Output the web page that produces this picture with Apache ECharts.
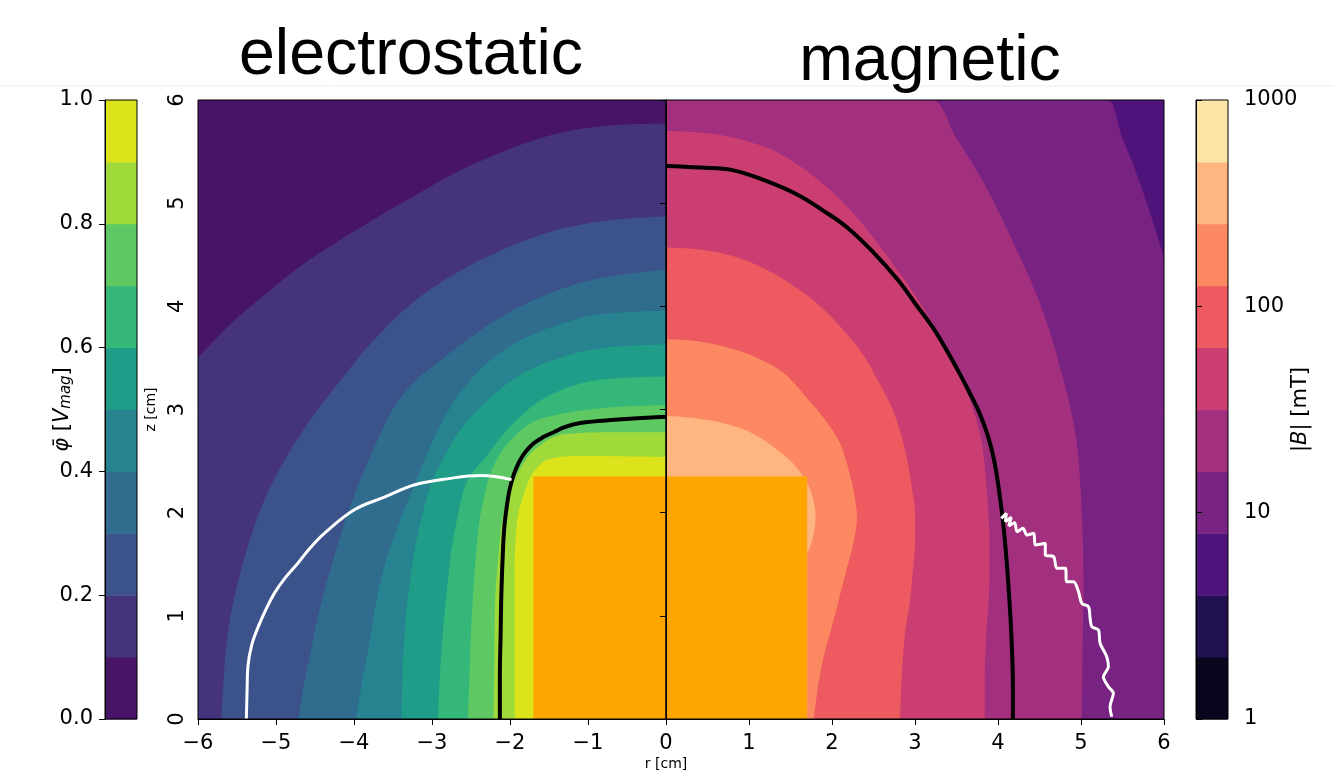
<!DOCTYPE html>
<html>
<head>
<meta charset="utf-8">
<script src="https://cdn.jsdelivr.net/npm/echarts@6/dist/echarts.min.js"></script>
<style>
  html, body { margin: 0; padding: 0; background: #fff; }
  #chart { width: 1334px; height: 770px; }
</style>
</head>
<body>
<div id="chart"></div>
<script>
// colour levels
var phiLevels = [0, 0.1, 0.2, 0.3, 0.4, 0.5, 0.6, 0.7, 0.8, 0.9, 1.0];
var phiColors = ['#481467', '#46337E', '#3B528B', '#2F6C8E', '#26838F', '#1F9D89', '#35B779', '#5EC962', '#9FDA3A', '#DDE31A'];
var bLevels = [1, 1.995, 3.981, 7.943, 15.85, 31.62, 63.10, 125.9, 251.2, 501.2, 1000];
var bColors = ['#07061C', '#221150', '#50127B', '#782281', '#A3307E', '#CB3E71', '#ED5A5F', '#FC8961', '#FEB57F', '#FCE5A6'];

// magnet (radius, height) in cm
var magnetR = 1.7;
var magnetH = 2.35;

// electrostatic contour boundaries [r, z] (cm); the side toward the magnet gets the next level
var phi01 = [[0,5.77],[-0.45,5.765],[-0.87,5.74],[-1.30,5.69],[-1.73,5.60],[-2.15,5.48],[-2.58,5.34],[-3.0,5.17],[-3.44,4.98],[-3.86,4.79],[-4.29,4.59],[-4.72,4.37],[-5.15,4.11],[-5.58,3.83],[-6,3.50]];
var phi02 = [[0,4.87],[-0.65,4.84],[-1.30,4.76],[-1.73,4.66],[-2.15,4.53],[-2.58,4.37],[-3.01,4.17],[-3.35,3.97],[-3.65,3.75],[-3.88,3.56],[-4.08,3.37],[-4.33,3.13],[-4.56,2.90],[-4.88,2.52],[-5.15,2.12],[-5.34,1.72],[-5.49,1.32],[-5.60,0.92],[-5.66,0.51],[-5.70,0]];
var phi03 = [[0,4.36],[-0.87,4.27],[-1.30,4.18],[-1.73,4.05],[-2.15,3.88],[-2.58,3.66],[-2.92,3.46],[-3.22,3.27],[-3.47,3.04],[-3.70,2.70],[-3.94,2.28],[-4.13,1.88],[-4.29,1.48],[-4.44,1.07],[-4.55,0.67],[-4.65,0.30],[-4.71,0]];
var phi04 = [[0,3.96],[-0.87,3.92],[-1.30,3.84],[-1.73,3.72],[-2.07,3.58],[-2.37,3.40],[-2.58,3.22],[-2.75,3.04],[-3.00,2.68],[-3.22,2.28],[-3.43,1.88],[-3.61,1.48],[-3.73,1.07],[-3.82,0.67],[-3.91,0.30],[-3.97,0]];
var phi05 = [[0,3.63],[-0.87,3.59],[-1.51,3.46],[-1.94,3.30],[-2.30,3.08],[-2.50,2.93],[-2.67,2.77],[-2.85,2.53],[-3.01,2.28],[-3.13,1.96],[-3.22,1.64],[-3.30,1.23],[-3.35,0.83],[-3.38,0.40],[-3.39,0]];
var phi06 = [[0,3.32],[-0.68,3.30],[-1.10,3.25],[-1.53,3.12],[-1.87,2.93],[-2.13,2.72],[-2.33,2.52],[-2.47,2.40],[-2.58,2.25],[-2.68,1.93],[-2.75,1.64],[-2.81,1.23],[-2.86,0.83],[-2.90,0.40],[-2.92,0]];
var phi07 = [[0,3.04],[-0.87,3.01],[-1.51,2.93],[-1.75,2.86],[-1.90,2.77],[-2.04,2.66],[-2.15,2.54],[-2.25,2.38],[-2.32,2.19],[-2.39,1.92],[-2.43,1.64],[-2.47,1.23],[-2.50,0.83],[-2.52,0.40],[-2.54,0]];
var phi08 = [[0,2.78],[-0.68,2.78],[-1.30,2.76],[-1.48,2.72],[-1.60,2.66],[-1.74,2.57],[-1.85,2.45],[-1.95,2.31],[-2.02,2.19],[-2.08,2.00],[-2.12,1.80],[-2.16,1.47],[-2.19,1.15],[-2.20,0.58],[-2.21,0]];
var phi09 = [[0,2.54],[-1.10,2.55],[-1.35,2.54],[-1.53,2.51],[-1.62,2.46],[-1.68,2.41],[-1.74,2.34],[-1.79,2.25],[-1.85,2.11],[-1.90,1.96],[-1.93,1.72],[-1.94,1.48],[-1.94,0.74],[-1.94,0]];
var phiLine = [[0,2.93],[-0.66,2.90],[-1.10,2.87],[-1.30,2.83],[-1.44,2.78],[-1.58,2.73],[-1.70,2.67],[-1.80,2.59],[-1.87,2.51],[-1.92,2.43],[-1.96,2.35],[-2.00,2.24],[-2.03,2.12],[-2.07,1.88],[-2.09,1.64],[-2.11,1.23],[-2.12,0.83],[-2.13,0.40],[-2.13,0]];
var phiPath = [[-5.38,0],[-5.37,0.30],[-5.36,0.51],[-5.31,0.72],[-5.23,0.89],[-5.13,1.06],[-5.02,1.22],[-4.88,1.37],[-4.72,1.51],[-4.56,1.66],[-4.38,1.80],[-3.99,2.03],[-3.61,2.15],[-3.22,2.27],[-2.79,2.33],[-2.37,2.36],[-1.98,2.32]];

// magnetic contour boundaries [r, z] (cm)
var bMa = [[0,6],[5.10,6],[5.31,6],[5.50,5.63],[5.69,5.24],[5.85,4.86],[6,4.47]];
var bMb = [[0,6],[3.0,6],[3.2,6],[3.50,5.63],[3.80,5.24],[4.00,4.93],[4.20,4.59],[4.42,4.20],[4.61,3.79],[4.76,3.37],[4.89,2.95],[4.96,2.60],[4.99,2.29],[5.02,1.80],[5.03,1.30],[5.02,0.70],[5.01,0]];
var bMc = [[0,5.70],[0.40,5.685],[0.79,5.64],[1.10,5.57],[1.39,5.47],[1.70,5.31],[2.0,5.11],[2.30,4.86],[2.60,4.56],[2.80,4.34],[3.0,4.11],[3.20,3.85],[3.40,3.56],[3.57,3.27],[3.72,2.95],[3.80,2.70],[3.84,2.44],[3.88,2.05],[3.90,1.64],[3.89,1.20],[3.86,0.83],[3.84,0.40],[3.84,0]];
var bMd = [[0,4.57],[0.40,4.55],[0.79,4.49],[1.20,4.36],[1.59,4.17],[1.90,3.97],[2.19,3.72],[2.40,3.50],[2.56,3.27],[2.68,3.09],[2.76,2.94],[2.88,2.61],[2.95,2.30],[3.0,1.96],[3.0,1.70],[2.98,1.48],[2.94,1.15],[2.88,0.83],[2.84,0.40],[2.82,0]];
var bMe = [[0,3.68],[0.40,3.66],[0.79,3.59],[1.10,3.50],[1.39,3.37],[1.57,3.23],[1.72,3.09],[1.88,2.94],[2.08,2.70],[2.17,2.50],[2.24,2.29],[2.28,2.12],[2.30,1.96],[2.28,1.80],[2.24,1.64],[2.16,1.40],[2.08,1.15],[2.00,0.90],[1.92,0.67],[1.86,0.45],[1.82,0.25],[1.78,0]];
var bMf = [[0,2.94],[0.49,2.90],[0.89,2.82],[1.10,2.74],[1.29,2.64],[1.49,2.51],[1.60,2.41],[1.67,2.33],[1.74,2.22],[1.78,2.10],[1.80,2.0],[1.79,1.85],[1.75,1.70],[1.70,1.60]];
var bLine = [[0,5.36],[0.41,5.345],[0.80,5.32],[1.19,5.22],[1.59,5.08],[1.89,4.93],[2.19,4.76],[2.49,4.53],[2.80,4.25],[3.0,4.03],[3.21,3.80],[3.37,3.59],[3.53,3.36],[3.66,3.16],[3.78,2.96],[3.88,2.74],[3.95,2.52],[4.01,2.23],[4.07,1.84],[4.12,1.36],[4.16,0.83],[4.18,0.28],[4.18,0]];
var bPath = [[4.04,1.945],[4.10,1.994],[4.09,1.913],[4.16,1.955],[4.13,1.871],[4.20,1.903],[4.23,1.816],[4.30,1.848],[4.35,1.783],[4.43,1.80],[4.45,1.687],[4.57,1.703],[4.57,1.590],[4.67,1.573],[4.71,1.461],[4.81,1.461],[4.83,1.331],[4.91,1.331],[4.97,1.234],[5.01,1.121],[5.09,1.088],[5.11,0.976],[5.13,0.895],[5.21,0.863],[5.23,0.734],[5.31,0.604],[5.33,0.507],[5.27,0.410],[5.33,0.313],[5.39,0.249],[5.35,0.119],[5.37,0.022]];

var FONT = 'DejaVu Sans';
var chart = echarts.init(document.getElementById('chart'));

function band(xi, pts, color, z) {
  return {
    type: 'line', xAxisIndex: xi, yAxisIndex: xi, data: pts, smooth: 0.4,
    symbol: 'none', silent: true, z: z,
    lineStyle: { width: 0 },
    areaStyle: { color: color, opacity: 1 }
  };
}
function curve(xi, pts, color, width, z) {
  return {
    type: 'line', xAxisIndex: xi, yAxisIndex: xi, data: pts, smooth: 0.4,
    symbol: 'none', silent: true, z: z,
    lineStyle: { color: color, width: width }
  };
}
function bins(levels) {
  return levels.slice(0, -1).map(function (v, i) { return [v, levels[i + 1]]; });
}
function colorbarItem(colors) {
  return function (params, api) {
    var lo = api.coord([0, api.value(0)]);
    var hi = api.coord([1, api.value(1)]);
    return {
      type: 'rect',
      shape: { x: lo[0], y: hi[1], width: hi[0] - lo[0], height: lo[1] - hi[1] + 0.5 },
      style: { fill: colors[params.dataIndex] }
    };
  };
}
function minus(v) { return v < 0 ? '\u2212' + (-v) : String(v); }

var tickStyle = { show: true, inside: false, length: 6, lineStyle: { color: '#000', width: 1 } };
var lineStyleAx = { show: true, lineStyle: { color: '#000', width: 1 } };
var labelStyle = { color: '#000', fontFamily: FONT, fontSize: 21 };

var series = [
  band(0, [[-6,6],[0,6]], phiColors[0], 1),
  band(0, phi01, phiColors[1], 2),
  band(0, phi02, phiColors[2], 3),
  band(0, phi03, phiColors[3], 4),
  band(0, phi04, phiColors[4], 5),
  band(0, phi05, phiColors[5], 6),
  band(0, phi06, phiColors[6], 7),
  band(0, phi07, phiColors[7], 8),
  band(0, phi08, phiColors[8], 9),
  band(0, phi09, phiColors[9], 10),
  band(1, [[0,6],[6,6]], bColors[2], 1),
  band(1, bMa, bColors[3], 2),
  band(1, bMb, bColors[4], 3),
  band(1, bMc, bColors[5], 4),
  band(1, bMd, bColors[6], 5),
  band(1, bMe, bColors[7], 6),
  band(1, bMf, bColors[8], 7)
];
// magnet
var magL = band(0, [[-magnetR, magnetH], [0, magnetH]], '#FFA500', 11); magL.smooth = false;
var magR = band(1, [[0, magnetH], [magnetR, magnetH]], '#FFA500', 11); magR.smooth = false;
series.push(magL, magR);
series.push(curve(0, phiLine, '#000', 4, 12));
series.push(curve(1, bLine, '#000', 4, 12));
series.push(curve(0, phiPath, '#fff', 3, 13));
var wp = curve(1, bPath, '#fff', 3, 13); wp.smooth = 0.3;
series.push(wp);
series.push({
  type: 'custom', xAxisIndex: 2, yAxisIndex: 2, data: bins(phiLevels),
  renderItem: colorbarItem(phiColors), silent: true, z: 2
});
series.push({
  type: 'custom', xAxisIndex: 3, yAxisIndex: 3, data: bins(bLevels),
  renderItem: colorbarItem(bColors), silent: true, z: 2
});

var frame = { show: true, backgroundColor: 'transparent', borderColor: '#000', borderWidth: 1, z: 20 };
var titleFont = { fontFamily: 'Liberation Sans', fontSize: 64.5, fontWeight: 'normal', color: '#000' };

chart.setOption({
  animation: false,
  backgroundColor: '#fff',
  title: [
    { text: 'electrostatic', left: 406, top: 19, textAlign: 'center', textStyle: titleFont },
    { text: 'magnetic', left: 925, top: 25, textAlign: 'center', textStyle: titleFont },
    { text: 'r [cm]', left: 661, top: 752, textAlign: 'center',
      textStyle: { fontFamily: FONT, fontSize: 14, fontWeight: 'normal', color: '#000' } }
  ],
  graphic: [
    { type: 'line', shape: { x1: 0, y1: 86, x2: 1334, y2: 86 }, style: { stroke: '#ececec', lineWidth: 1 } }
  ],
  grid: [
    Object.assign({ left: 198, top: 100, width: 468, height: 619 }, frame),
    Object.assign({ left: 666, top: 100, width: 498, height: 619 }, frame),
    Object.assign({ left: 105, top: 100, width: 32, height: 619 }, frame),
    Object.assign({ left: 1196, top: 100, width: 32, height: 619 }, frame)
  ],
  xAxis: [
    { type: 'value', gridIndex: 0, min: -6, max: 0, interval: 1, z: 20,
      axisLine: lineStyleAx, axisTick: tickStyle, splitLine: { show: false },
      axisLabel: Object.assign({ margin: 14, formatter: minus }, labelStyle) },
    { type: 'value', gridIndex: 1, min: 0, max: 6, interval: 1, z: 20,
      axisLine: lineStyleAx, axisTick: tickStyle, splitLine: { show: false },
      axisLabel: Object.assign({ margin: 14, formatter: function (v) { return v === 0 ? '' : String(v); } }, labelStyle) },
    { type: 'value', gridIndex: 2, min: 0, max: 1, show: false },
    { type: 'value', gridIndex: 3, min: 0, max: 1, show: false }
  ],
  yAxis: [
    { type: 'value', gridIndex: 0, min: 0, max: 6, interval: 1, z: 20,
      axisLine: lineStyleAx, axisTick: tickStyle, splitLine: { show: false },
      axisLabel: Object.assign({ margin: 10, rotate: 90 }, labelStyle),
      name: 'z [cm]', nameLocation: 'middle', nameGap: 40, nameRotate: 90, nameMoveOverlap: false,
      nameTextStyle: { fontFamily: FONT, fontSize: 14, color: '#000' } },
    { type: 'value', gridIndex: 1, min: 0, max: 6, interval: 1, z: 20,
      axisLine: lineStyleAx, axisTick: tickStyle, splitLine: { show: false },
      axisLabel: { show: false } },
    { type: 'value', gridIndex: 2, min: 0, max: 1, interval: 0.2, z: 20,
      axisLine: lineStyleAx, axisTick: tickStyle, splitLine: { show: false },
      axisLabel: Object.assign({ margin: 12, formatter: function (v) { return v.toFixed(1); } }, labelStyle),
      name: '{i|\u03C6\u0304} [{i|V}{s|mag}]', nameLocation: 'middle', nameGap: 31, nameRotate: 90, nameMoveOverlap: false,
      nameTextStyle: { fontFamily: FONT, fontSize: 21, color: '#000',
        rich: { i: { fontFamily: FONT, fontStyle: 'italic', fontSize: 21 },
                s: { fontFamily: FONT, fontStyle: 'italic', fontSize: 15, verticalAlign: 'bottom', padding: [8, 0, 0, 0] } } } },
    { type: 'log', logBase: 10, gridIndex: 3, min: 1, max: 1000, position: 'right', z: 20,
      axisLine: lineStyleAx, axisTick: tickStyle, splitLine: { show: false }, minorTick: { show: false },
      axisLabel: Object.assign({ margin: 16, formatter: function (v) { return String(v); } }, labelStyle),
      name: '|{i|B}| [mT]', nameLocation: 'middle', nameGap: 62, nameRotate: 90, nameMoveOverlap: false,
      nameTextStyle: { fontFamily: FONT, fontSize: 21, color: '#000',
        rich: { i: { fontFamily: FONT, fontStyle: 'italic', fontSize: 21 } } } }
  ],
  series: series
});
</script>
</body>
</html>
